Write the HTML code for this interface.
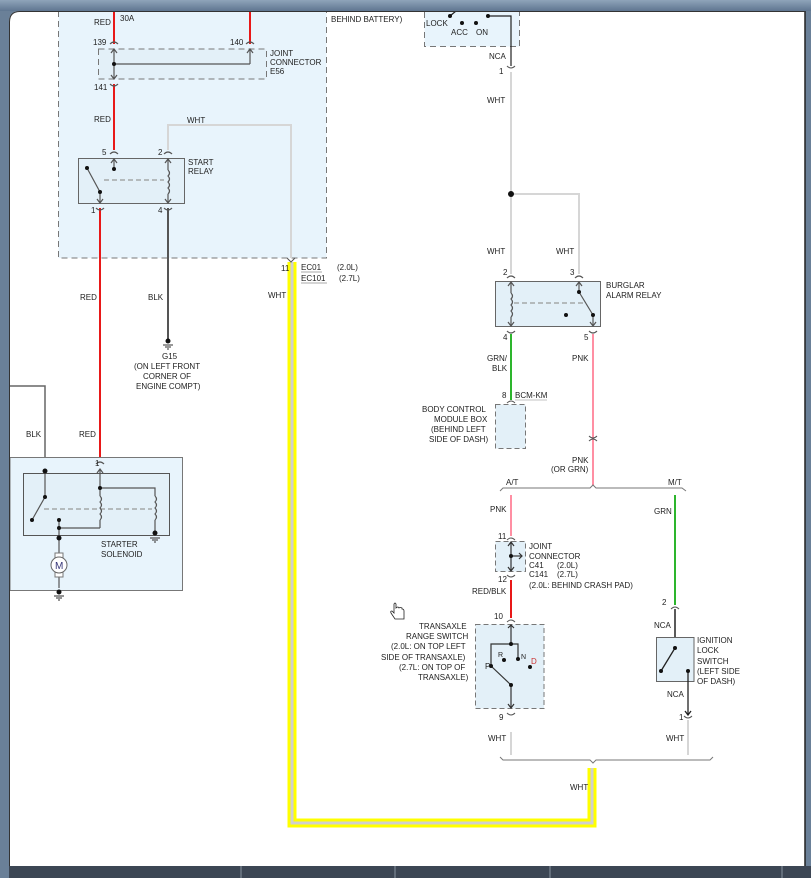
<!DOCTYPE html>
<html><head><meta charset="utf-8"><style>
html,body{margin:0;padding:0;width:811px;height:878px;overflow:hidden;background:#fff}
svg{display:block}
text{font-family:"Liberation Sans",sans-serif;font-size:8px;fill:#222}
</style></head><body>
<svg width="811" height="878" viewBox="0 0 811 878">
<defs>
<linearGradient id="tb" x1="0" y1="0" x2="0" y2="1"><stop offset="0" stop-color="#8fa4ba"/><stop offset="1" stop-color="#5f7690"/></linearGradient>
</defs>
<rect x="0" y="0" width="811" height="878" fill="#6a8098"/>
<path d="M9 878 V22 Q9 11 20 11 H805 V866 H9Z" fill="#fff"/>
<line x1="805" y1="11" x2="805" y2="866" stroke="#222" stroke-width="1.5"/>
<rect x="9" y="866" width="802" height="12" fill="#3c4654"/>
<g stroke="#8894a0" stroke-width="1"><line x1="241" y1="866" x2="241" y2="878"/><line x1="395" y1="866" x2="395" y2="878"/><line x1="550" y1="866" x2="550" y2="878"/><line x1="782" y1="866" x2="782" y2="878"/></g>

<!-- engine box -->
<rect x="58.5" y="5" width="268" height="253" fill="#e8f4fc" stroke="#777" stroke-dasharray="6,4"/>
<rect x="98.5" y="49" width="168" height="30" fill="#e3f0f8" stroke="#777" stroke-dasharray="6,4"/>
<g fill="none" stroke-width="2">
<line x1="114" y1="11" x2="114" y2="44" stroke="#e81818"/>
<line x1="250" y1="11" x2="250" y2="44" stroke="#e81818"/>
<line x1="114" y1="84" x2="114" y2="150" stroke="#e81818"/>
<line x1="100" y1="208" x2="100" y2="460" stroke="#e81818"/>
</g>
<g fill="none" stroke="#555" stroke-width="1.2">
<line x1="114" y1="49" x2="114" y2="79"/><line x1="114" y1="64" x2="250" y2="64"/><line x1="250" y1="49" x2="250" y2="64"/>
<path d="M110 44 Q114 40 118 44 M246 44 Q250 40 254 44 M110 84 Q114 88 118 84"/>
<path d="M111 53 L114 49 L117 53 M111 75 L114 79 L117 75 M247 53 L250 49 L253 53"/>
</g>
<circle cx="114" cy="64" r="2" fill="#111"/>
<text x="94" y="25">RED</text><text x="120" y="21">30A</text>
<text x="93" y="45">139</text><text x="230" y="45">140</text><text x="94" y="90">141</text>
<text x="270" y="56">JOINT</text><text x="270" y="65">CONNECTOR</text><text x="270" y="74">E56</text>
<text x="331" y="22">BEHIND BATTERY)</text>
<text x="94" y="122">RED</text><text x="187" y="123">WHT</text>

<!-- start relay -->
<polyline points="168,150 168,125 291,125 291,258" fill="none" stroke="#d6d6d6" stroke-width="2"/>
<rect x="78.5" y="158.5" width="106" height="45" fill="#e3f0f8" stroke="#666"/>
<g fill="none" stroke="#555" stroke-width="1.2">
<path d="M110 154 Q114 150 118 154 M164 154 Q168 150 172 154 M96 208 Q100 212 104 208 M164 208 Q168 212 172 208"/>
<line x1="114" y1="159" x2="114" y2="169"/><path d="M111 163 L114 159 L117 163"/>
<line x1="87" y1="168" x2="100" y2="192"/><line x1="100" y1="192" x2="100" y2="203"/><path d="M97 199 L100 203 L103 199"/>
<line x1="104" y1="180" x2="164" y2="180" stroke-dasharray="5,3" stroke="#999"/>
<line x1="168" y1="159" x2="168" y2="170"/><line x1="168" y1="194" x2="168" y2="203"/><path d="M165 163 L168 159 L171 163 M165 199 L168 203 L171 199"/>
<path d="M168 170 q3 3 0 6 q3 3 0 6 q3 3 0 6 q3 3 0 6"/>
</g>
<circle cx="114" cy="169" r="2" fill="#111"/><circle cx="87" cy="168" r="2" fill="#111"/><circle cx="100" cy="192" r="2" fill="#111"/>
<text x="102" y="155">5</text><text x="158" y="155">2</text><text x="91" y="213">1</text><text x="158" y="213">4</text>
<text x="188" y="165">START</text><text x="188" y="174">RELAY</text>
<line x1="168" y1="208" x2="168" y2="340" stroke="#555" stroke-width="2"/>
<circle cx="168" cy="341" r="2.5" fill="#111"/><path d="M163 345 H173 M165 347 H171 M167 349 H169" stroke="#333"/>
<text x="80" y="300">RED</text><text x="148" y="300">BLK</text>
<text x="162" y="359">G15</text>
<text x="134" y="369">(ON LEFT FRONT</text><text x="143" y="379">CORNER OF</text><text x="136" y="389">ENGINE COMPT)</text>

<!-- yellow highlighted wire -->
<path d="M292 262 V823 H592 V768" fill="none" stroke="#ffff00" stroke-width="9"/>
<path d="M292 262 V823 H592 V768" fill="none" stroke="#d0d0d0" stroke-width="3"/>
<path d="M287 258 L291 262 L295 258" fill="none" stroke="#555"/>
<text x="281" y="271">11</text>
<text x="301" y="270">EC01</text><line x1="301" y1="272" x2="322" y2="272" stroke="#555" stroke-width="0.6"/>
<text x="301" y="281">EC101</text><line x1="301" y1="283" x2="327" y2="283" stroke="#555" stroke-width="0.6"/>
<text x="337" y="270">(2.0L)</text><text x="339" y="281">(2.7L)</text>
<text x="268" y="298">WHT</text>

<!-- starter solenoid -->
<polyline points="10,386 45,386 45,471" fill="none" stroke="#666" stroke-width="1.5"/>
<text x="26" y="437">BLK</text><text x="79" y="437">RED</text>
<rect x="10" y="457.5" width="172.5" height="133" fill="#e8f4fc" stroke="#777"/>
<rect x="23.5" y="473.5" width="146" height="62" fill="#e3f0f8" stroke="#555"/>
<g fill="none" stroke="#555" stroke-width="1.2">
<path d="M96 464 Q100 460 104 464"/><line x1="100" y1="469" x2="100" y2="496"/><line x1="100" y1="520" x2="100" y2="528"/><path d="M97 473 L100 469 L103 473"/>
<line x1="45" y1="471" x2="45" y2="497"/><line x1="45" y1="497" x2="32" y2="520"/>
<polyline points="59,528 100,528"/><line x1="59" y1="520" x2="59" y2="588"/>
<polyline points="100,488 155,488 155,496"/><line x1="155" y1="520" x2="155" y2="533"/>
<line x1="44" y1="509" x2="152" y2="509" stroke="#999" stroke-dasharray="5,3"/>
<path d="M100 496 q3 3 0 6 q3 3 0 6 q3 3 0 6 q3 3 0 6 M155 496 q3 3 0 6 q3 3 0 6 q3 3 0 6 q3 3 0 6"/>
<path d="M150 538 H160 M152 540 H158 M154 542 H156 M54 596 H64 M56 598 H62 M58 600 H60"/>
</g>
<g fill="#111"><circle cx="45" cy="471" r="2.5"/><circle cx="45" cy="497" r="2"/><circle cx="32" cy="520" r="2"/><circle cx="59" cy="520" r="2"/><circle cx="59" cy="528" r="2"/><circle cx="59" cy="538" r="2.5"/><circle cx="100" cy="488" r="2"/><circle cx="155" cy="533" r="2.5"/><circle cx="59" cy="592" r="2.5"/></g>
<rect x="55" y="553" width="8" height="24" fill="#fff" stroke="#777"/>
<circle cx="59" cy="565" r="8" fill="#fff" stroke="#666"/>
<text x="55" y="569" style="font-size:10px;fill:#337">M</text>
<text x="95" y="466">1</text>
<text x="101" y="547">STARTER</text><text x="101" y="557">SOLENOID</text>

<!-- ignition switch top -->
<rect x="424.5" y="5" width="95" height="41.5" fill="#e8f4fc" stroke="#777" stroke-dasharray="6,4"/>
<g fill="none" stroke="#222" stroke-width="1.2"><polyline points="488,16 511,16 511,66"/><line x1="450" y1="16" x2="456" y2="11"/></g>
<g fill="#111"><circle cx="450" cy="16" r="2"/><circle cx="462" cy="23" r="2"/><circle cx="476" cy="23" r="2"/><circle cx="488" cy="16" r="2"/></g>
<text x="426" y="26">LOCK</text><text x="451" y="35">ACC</text><text x="476" y="35">ON</text>
<text x="489" y="59">NCA</text><text x="499" y="74">1</text>
<path d="M507 66 Q511 70 515 66" fill="none" stroke="#555"/>
<g fill="none" stroke="#d6d6d6" stroke-width="2"><line x1="511" y1="72" x2="511" y2="274"/><polyline points="511,194 579,194 579,274"/><line x1="511" y1="732" x2="511" y2="755"/><line x1="688" y1="720" x2="688" y2="755"/></g>
<circle cx="511" cy="194" r="3" fill="#111"/>
<text x="487" y="103">WHT</text><text x="487" y="254">WHT</text><text x="556" y="254">WHT</text>

<!-- burglar relay -->
<rect x="495.5" y="281.5" width="105" height="45" fill="#e3f0f8" stroke="#666"/>
<g fill="none" stroke="#555" stroke-width="1.2">
<path d="M507 278 Q511 274 515 278 M575 278 Q579 274 583 278 M507 331 Q511 335 515 331 M589 331 Q593 335 597 331"/>
<line x1="514" y1="303" x2="584" y2="303" stroke="#999" stroke-dasharray="5,3"/>
<line x1="511" y1="282" x2="511" y2="293"/><line x1="511" y1="317" x2="511" y2="326"/><path d="M508 286 L511 282 L514 286 M508 322 L511 326 L514 322"/>
<path d="M511 293 q3 3 0 6 q3 3 0 6 q3 3 0 6 q3 3 0 6"/>
<line x1="579" y1="282" x2="579" y2="292"/><path d="M576 286 L579 282 L582 286"/><line x1="579" y1="292" x2="593" y2="315"/><line x1="593" y1="315" x2="593" y2="326"/><path d="M590 322 L593 326 L596 322"/>
</g>
<g fill="#111"><circle cx="579" cy="292" r="2"/><circle cx="593" cy="315" r="2"/><circle cx="566" cy="315" r="2"/></g>
<text x="503" y="275">2</text><text x="570" y="275">3</text><text x="503" y="340">4</text><text x="584" y="340">5</text>
<text x="606" y="288">BURGLAR</text><text x="606" y="298">ALARM RELAY</text>
<line x1="511" y1="334" x2="511" y2="400" stroke="#2db52d" stroke-width="2"/>
<line x1="593" y1="334" x2="593" y2="485" stroke="#ff8fa3" stroke-width="2"/>
<path d="M589 436 Q593 440 597 436 M589 441 Q593 437 597 441" fill="none" stroke="#555"/>
<text x="487" y="361">GRN/</text><text x="492" y="371">BLK</text><text x="572" y="361">PNK</text>
<text x="502" y="398">8</text><text x="515" y="398">BCM-KM</text><line x1="515" y1="400" x2="547" y2="400" stroke="#888" stroke-width="0.6"/>
<path d="M507 403 Q511 399 515 403" fill="none" stroke="#555"/>
<rect x="495.5" y="404.5" width="30" height="44" fill="#e3f0f8" stroke="#777" stroke-dasharray="5,3"/>
<text x="422" y="412">BODY CONTROL</text><text x="434" y="422">MODULE BOX</text><text x="431" y="432">(BEHIND LEFT</text><text x="429" y="442">SIDE OF DASH)</text>
<text x="572" y="463">PNK</text><text x="551" y="472">(OR GRN)</text>

<!-- bus top -->
<path d="M500 491 L503 488 H590 L593 485 L596 488 H682 L686 491" fill="none" stroke="#777"/>
<text x="506" y="485">A/T</text><text x="668" y="485">M/T</text>
<line x1="511" y1="495" x2="511" y2="536" stroke="#ff8fa3" stroke-width="2"/>
<line x1="675" y1="495" x2="675" y2="605" stroke="#2db52d" stroke-width="2"/>
<text x="490" y="512">PNK</text><text x="654" y="514">GRN</text>

<!-- joint connector C41 -->
<path d="M507 540 Q511 536 515 540 M507 575 Q511 579 515 575" fill="none" stroke="#555"/>
<rect x="495.5" y="541.5" width="30" height="30" fill="#e3f0f8" stroke="#777" stroke-dasharray="5,3"/>
<g fill="none" stroke="#333" stroke-width="1.2"><line x1="511" y1="542" x2="511" y2="571"/><line x1="511" y1="556" x2="522" y2="556"/><path d="M508 546 L511 542 L514 546 M508 567 L511 571 L514 567 M519 553 L522 556 L519 559"/></g>
<circle cx="511" cy="556" r="2" fill="#111"/>
<text x="498" y="539">11</text><text x="498" y="582">12</text>
<text x="529" y="549">JOINT</text><text x="529" y="559">CONNECTOR</text><text x="529" y="568">C41</text><text x="557" y="568">(2.0L)</text><text x="529" y="577">C141</text><text x="557" y="577">(2.7L)</text>
<text x="529" y="588">(2.0L: BEHIND CRASH PAD)</text>
<text x="472" y="594">RED/BLK</text>
<line x1="511" y1="580" x2="511" y2="618" stroke="#e81818" stroke-width="2"/>

<!-- transaxle switch -->
<text x="494" y="619">10</text>
<path d="M507 622 Q511 618 515 622 M507 713 Q511 717 515 713" fill="none" stroke="#555"/>
<rect x="475.5" y="624.5" width="68.5" height="84" fill="#e3f0f8" stroke="#777" stroke-dasharray="5,3"/>
<g fill="none" stroke="#333" stroke-width="1.2">
<line x1="511" y1="625" x2="511" y2="644"/><path d="M508 628 L511 625 L514 628"/>
<polyline points="491,666 491,644 518,644 518,659"/>
<line x1="491" y1="666" x2="511" y2="685"/><line x1="511" y1="685" x2="511" y2="708"/><path d="M508 704 L511 708 L514 704"/>
</g>
<g fill="#111"><circle cx="511" cy="644" r="2"/><circle cx="491" cy="666" r="2"/><circle cx="504" cy="660" r="2"/><circle cx="518" cy="659" r="2"/><circle cx="530" cy="667" r="2"/><circle cx="511" cy="685" r="2"/></g>
<text x="485" y="669">P</text><text x="498" y="657" style="font-size:7px">R</text><text x="521" y="659" style="font-size:7px">N</text><text x="531" y="664" style="fill:#c33">D</text>
<text x="419" y="629">TRANSAXLE</text><text x="406" y="639">RANGE SWITCH</text><text x="391" y="649">(2.0L: ON TOP LEFT</text><text x="381" y="660">SIDE OF TRANSAXLE)</text><text x="399" y="670">(2.7L: ON TOP OF</text><text x="418" y="680">TRANSAXLE)</text>
<text x="499" y="720">9</text>
<text x="488" y="741">WHT</text><text x="666" y="741">WHT</text>

<!-- ignition lock switch -->
<text x="662" y="605">2</text>
<path d="M671 609 Q675 605 679 609" fill="none" stroke="#555"/>
<line x1="675" y1="609" x2="675" y2="648" stroke="#222" stroke-width="1.5"/>
<text x="654" y="628">NCA</text>
<rect x="656.5" y="637.5" width="37.5" height="44" fill="#e3f0f8" stroke="#666"/>
<g fill="none" stroke="#222" stroke-width="1.3"><line x1="675" y1="648" x2="661" y2="671"/><line x1="688" y1="671" x2="688" y2="715"/><path d="M685 711 L688 715 L691 711"/></g>
<g fill="#111"><circle cx="675" cy="648" r="2"/><circle cx="661" cy="671" r="2"/><circle cx="688" cy="671" r="2"/></g>
<path d="M684 716 Q688 720 692 716" fill="none" stroke="#555"/>
<text x="697" y="643">IGNITION</text><text x="697" y="653">LOCK</text><text x="697" y="664">SWITCH</text><text x="697" y="674">(LEFT SIDE</text><text x="697" y="684">OF DASH)</text>
<text x="667" y="697">NCA</text><text x="679" y="720">1</text>

<!-- bottom bus -->
<path d="M500 757 L503 760 H590 L593 763 L596 760 H710 L713 757" fill="none" stroke="#777"/>
<text x="570" y="790">WHT</text>

<!-- hand cursor -->
<path d="M394 604 v9 l-2 -2 q-2 0 -1 2 l4 6 h9 v-8 q0 -2 -2 -2 v-1 q-2 -1 -3 0 q-1 -2 -3 0 v-4 q-1 -2 -2 0z" fill="#fff" stroke="#222" stroke-width="0.8"/>

<!-- frame overlay -->
<rect x="0" y="0" width="811" height="11" fill="url(#tb)"/>
<path d="M9 11 H20 Q9 11 9 22 Z" fill="#6a8098"/>
<path d="M9.5 866 V22 Q9.5 11.5 20 11.5 H805" fill="none" stroke="#333" stroke-width="1"/>
</svg>
</body></html>
